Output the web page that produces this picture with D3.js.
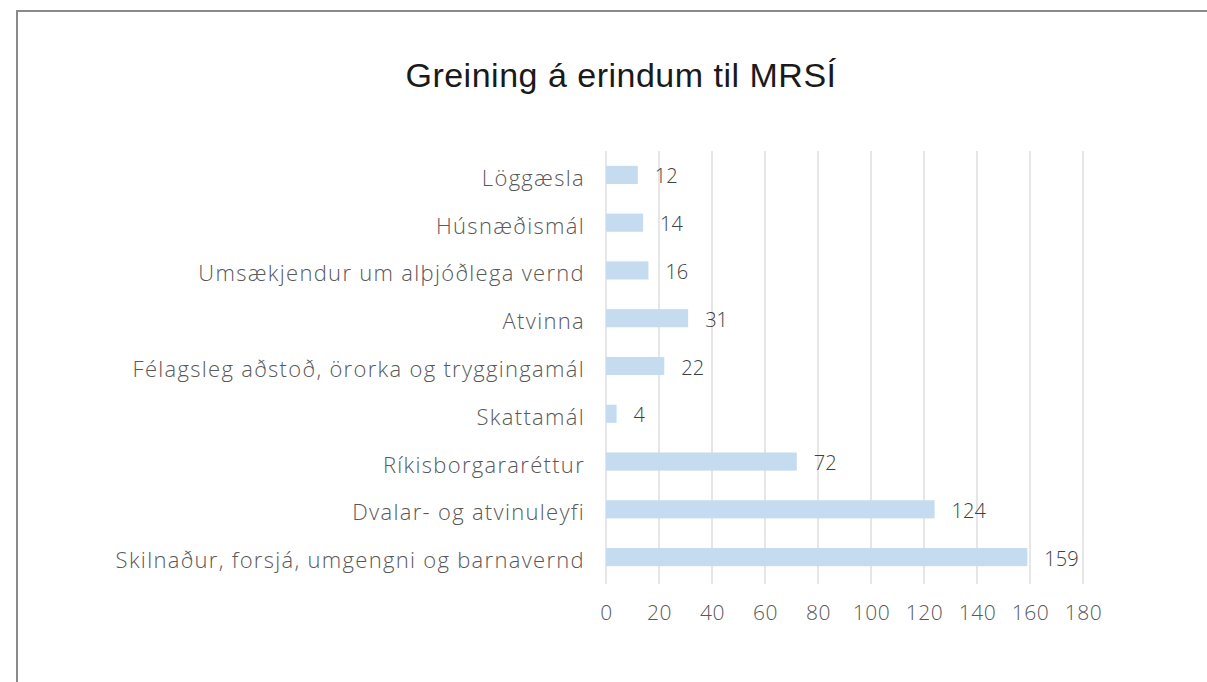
<!DOCTYPE html>
<html>
<head>
<meta charset="utf-8">
<script src="https://cdn.jsdelivr.net/npm/d3@7"></script>
<style>
  body { margin: 0; background: #fff; }
  svg { display: block; }
  .cat { font-family: "Open Sans", sans-serif; font-weight: 300; font-size: 22px; letter-spacing: 1.3px; fill: #595959; }
  .tick text { font-family: "Open Sans", sans-serif; font-weight: 300; font-size: 21px; letter-spacing: 0.6px; fill: #595959; }
  .val { font-family: "Open Sans", sans-serif; font-weight: 300; font-size: 20px; fill: #404040; }
  .title { font-family: "Liberation Sans", Arial, sans-serif; font-size: 34px; letter-spacing: 0.5px; fill: #1a1a1a; }
</style>
</head>
<body>
<svg id="chart"></svg>
<script>
// categories top to bottom, as shown
const categories = [
  'Löggæsla',
  'Húsnæðismál',
  'Umsækjendur um alþjóðlega vernd',
  'Atvinna',
  'Félagsleg aðstoð, örorka og tryggingamál',
  'Skattamál',
  'Ríkisborgararéttur',
  'Dvalar- og atvinuleyfi',
  'Skilnaður, forsjá, umgengni og barnavernd'
];
const counts = [12, 14, 16, 31, 22, 4, 72, 124, 159];
const xTicks = [0, 20, 40, 60, 80, 100, 120, 140, 160, 180];
const title = 'Greining á erindum til MRSÍ';

const W = 1207, H = 682;
const svg = d3.select('#chart').attr('width', W).attr('height', H);

// frame lines (top + left)
svg.append('line').attr('x1', 17).attr('x2', W).attr('y1', 11).attr('y2', 11)
  .attr('stroke', '#8a8a8a').attr('stroke-width', 2);
svg.append('line').attr('x1', 17).attr('x2', 17).attr('y1', 10).attr('y2', H)
  .attr('stroke', '#8a8a8a').attr('stroke-width', 2);

svg.append('text').attr('class', 'title')
  .attr('x', 621).attr('y', 87).attr('text-anchor', 'middle')
  .text(title);

const x = d3.scaleLinear().domain([0, 180]).range([606, 1083]);
const y = d3.scaleBand().domain(categories).range([151, 581]).paddingInner(0.62).paddingOuter(0.31);

// gridlines
svg.append('g').selectAll('line').data(xTicks).join('line')
  .attr('x1', d => x(d)).attr('x2', d => x(d))
  .attr('y1', 151).attr('y2', 584)
  .attr('stroke', '#d9d9d9').attr('stroke-width', 1.3);

// x axis labels
const xAxis = svg.append('g').attr('transform', 'translate(0,620)')
  .call(d3.axisBottom(x).tickValues(xTicks).tickSize(0).tickPadding(0));
xAxis.select('.domain').remove();
xAxis.selectAll('.tick text').attr('y', 0).attr('dy', 0);

// bars
svg.append('g').selectAll('rect').data(categories).join('rect')
  .attr('x', x(0))
  .attr('y', d => y(d))
  .attr('width', (d, i) => x(counts[i]) - x(0))
  .attr('height', y.bandwidth())
  .attr('fill', '#c5dcf0');

// value labels
svg.append('g').selectAll('text').data(categories).join('text')
  .attr('class', 'val')
  .attr('x', (d, i) => x(counts[i]) + 17)
  .attr('y', d => y(d) + y.bandwidth() / 2)
  .attr('dy', 8.5)
  .text((d, i) => counts[i]);

// category labels
svg.append('g').selectAll('text').data(categories).join('text')
  .attr('class', 'cat')
  .attr('x', 585)
  .attr('y', d => y(d) + y.bandwidth() / 2)
  .attr('dy', 11)
  .attr('text-anchor', 'end')
  .text(d => d);
</script>
</body>
</html>
